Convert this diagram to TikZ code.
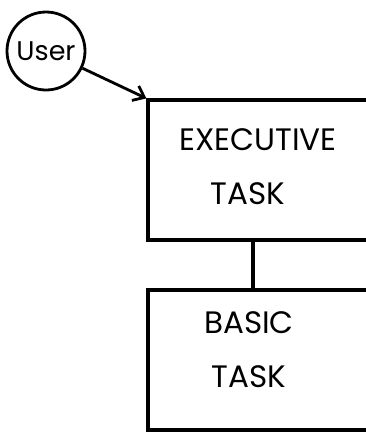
\documentclass[tikz,border=0pt]{standalone}
\usepackage{fontspec}
\setmainfont{Poppins}
\usetikzlibrary{arrows.meta}

\begin{document}
\begin{tikzpicture}[x=1pt,y=-1pt,
    taskbox/.style={draw,line width=3.2pt,inner sep=0pt,minimum width=220pt},
    tasktext/.style={align=center,inner sep=0pt,font=\fontsize{31}{54}\selectfont},
    userring/.style={draw,circle,line width=2.8pt,inner sep=0pt,
      minimum size=78pt,font=\fontsize{27}{32}\selectfont}]
    \useasboundingbox (0,0) rectangle (365,432);
    \path ( 46, 51) node [userring] (user) {User};
    \path (258,170) node [taskbox,minimum height=140pt] (exec) {};
    \path (258,360) node [taskbox,minimum height=140pt] (basic) {};
    \path (258,167) node [tasktext] (exectext) {EXECUTIVE\\\hspace*{-20pt}TASK};
    \path (249,350) node [tasktext] (basictext) {BASIC\\TASK};
    \draw [line width=2.8pt,-{Straight Barb[length=10pt,width=16pt]}] (user) -- (exec.north west);
    \draw [line width=3.2pt] ([xshift=-5pt]exec.south) -- ([xshift=-5pt]basic.north);
\end{tikzpicture}
\end{document}
